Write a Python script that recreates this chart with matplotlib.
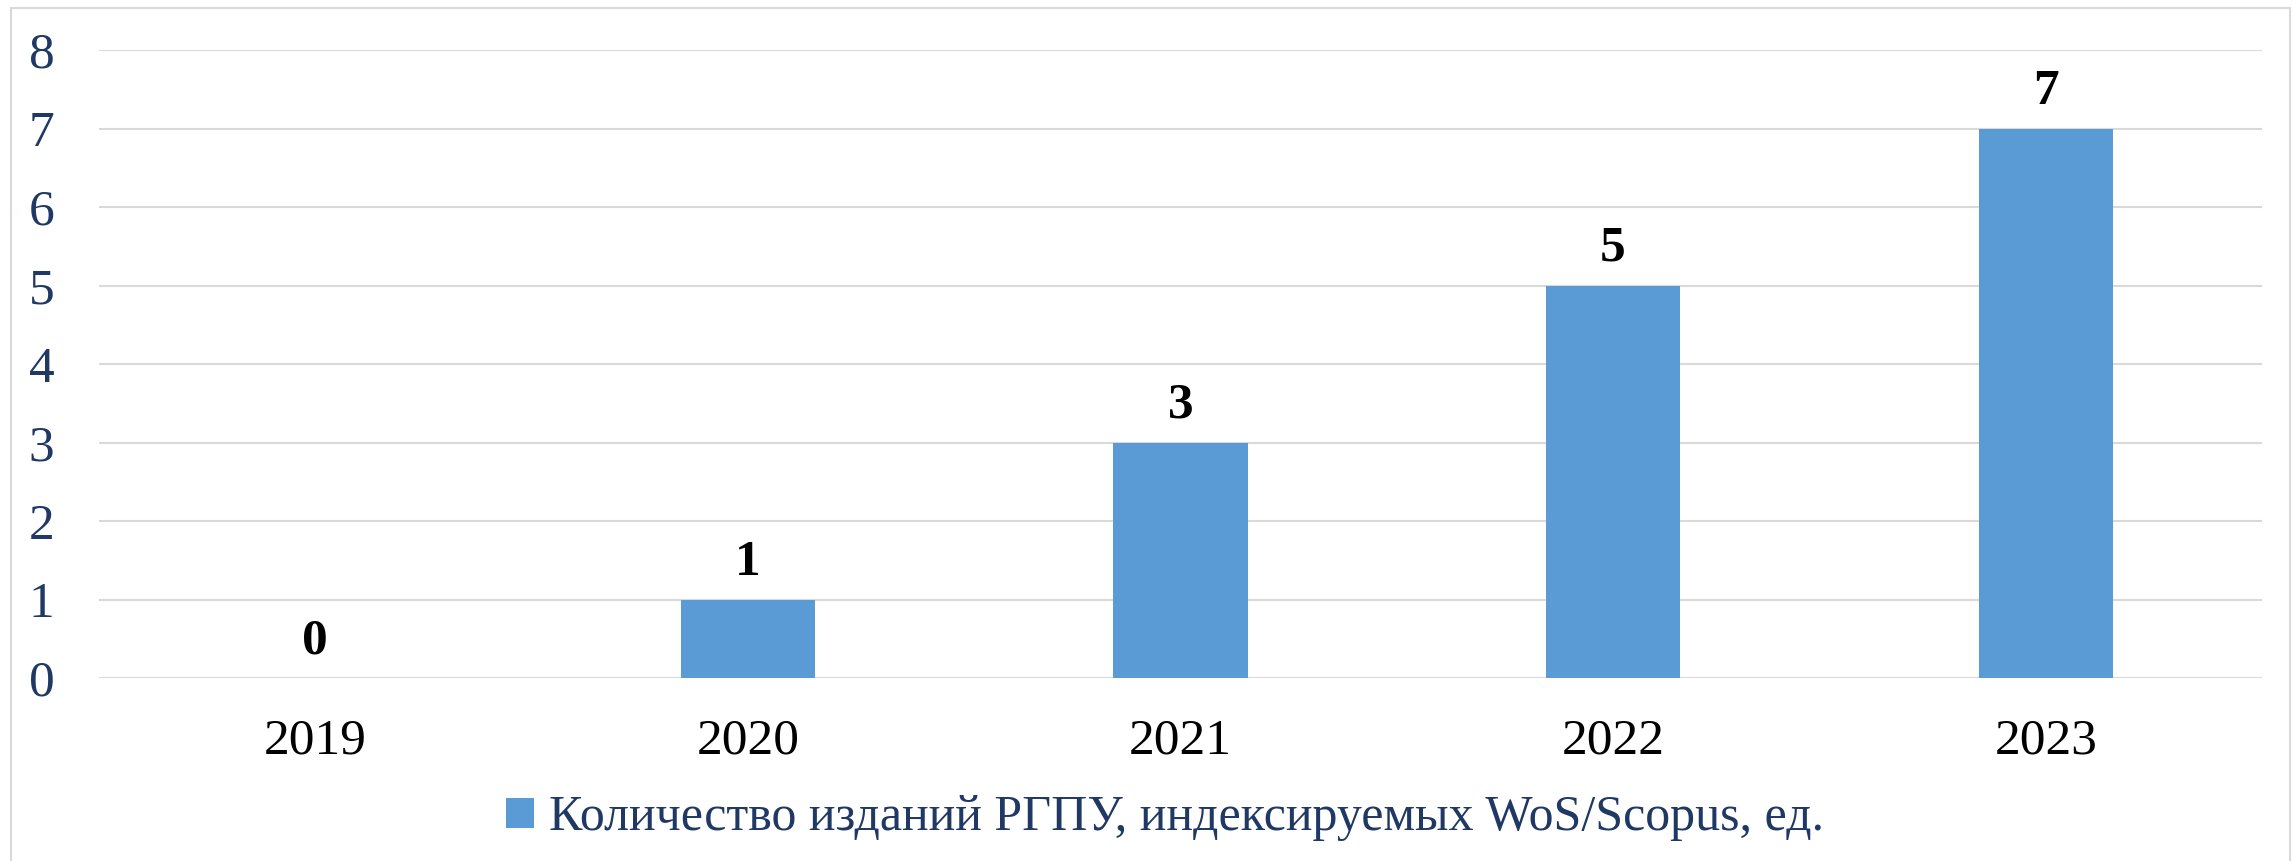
import numpy as np
from matplotlib import pyplot as plt
from matplotlib.patches import Rectangle

# данные
years = ['2019', '2020', '2021', '2022', '2023']
counts = [0, 1, 3, 5, 7]
series_name = 'Количество изданий РГПУ, индексируемых WoS/Scopus, ед.'

W, H = 2293, 861
plt.rcParams['font.family'] = ['Liberation Serif', 'DejaVu Serif']
fs = 37

fig = plt.figure(figsize=(W/100, H/100), dpi=100)
ax = fig.add_axes([99/W, 1 - 678/H, (2262 - 99)/W, (678 - 50)/H])

x = np.arange(len(years))
bars = ax.bar(x, counts, width=0.31, color='#5B9BD5', zorder=2, label=series_name)

ax.set_xlim(-0.5, len(years) - 0.5)
ax.set_ylim(0, 8)
ax.set_yticks(range(0, 9))
ax.set_xticks(x)
ax.set_xticklabels(years)
ax.yaxis.grid(True, color='#D9D9D9', linewidth=1.5, zorder=0)
ax.tick_params(axis='y', length=0, pad=32, labelsize=fs, labelcolor='#1F3864')
ax.tick_params(axis='x', length=0, pad=29, labelsize=fs, labelcolor='black')
for s in ax.spines.values():
    s.set_visible(False)

# подписи значений
for xi, v in zip(x, counts):
    ax.annotate(str(v), (xi, v), xytext=(0, 10), textcoords='offset points',
                ha='center', va='bottom', fontsize=fs, fontweight='bold', color='black')

# рамка диаграммы
fig.patches.append(Rectangle((11/W, -0.02), (2290 - 11)/W, 1.02 - 8/H,
                             transform=fig.transFigure, fill=False,
                             edgecolor='#D9D9D9', linewidth=1.5))

leg = fig.legend(loc='center', bbox_to_anchor=(1165/W, 1 - 818/H), frameon=False,
                 fontsize=36, handlelength=0.55, handleheight=0.55, handletextpad=0.3,
                 borderpad=0, borderaxespad=0)
for t in leg.get_texts():
    t.set_color('#1F3864')

fig.savefig('out.png', dpi=100)
